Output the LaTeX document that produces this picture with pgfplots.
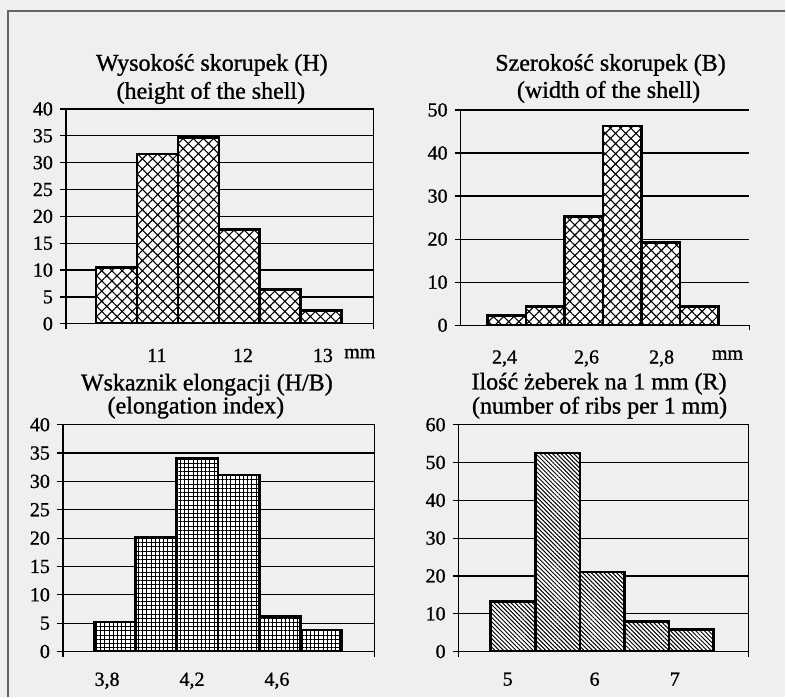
\documentclass[border=0pt]{standalone}
\usepackage{fontspec}
\setmainfont{Liberation Serif}[RawFeature={embolden=1.0}]
\usepackage{pgfplots}
\pgfplotsset{compat=1.18}
\usetikzlibrary{patterns.meta}
\definecolor{bg}{RGB}{239,239,241}
\definecolor{framec}{RGB}{100,100,100}
\pgfplotsset{
  hist/.style={
    scale only axis, anchor=south west, ymin=0, enlargelimits=false,
    ymajorgrids, grid style={black, line width=0.6pt},
    axis line style={-, black, line width=0.6pt},
    ytick pos=left, xtick pos=bottom,
    tick align=outside, major tick length=3pt,
    tick style={black, line width=0.6pt},
    yticklabel style={font=\fontsize{10}{12}\selectfont, /pgf/number format/assume math mode=true},
    xticklabel style={font=\fontsize{10}{12}\selectfont, yshift=-6pt},
    xtick style={draw=none},
    extra x tick labels={},
    extra x tick style={xtick style={draw=black}, major tick length=2.5pt, grid=none},
    ybar, bar width=1,
  },
  bars/.style={fill=white, draw=black, line width=1.3pt},
}
\begin{document}
\begin{tikzpicture}
\fill[bg] (0,0) rectangle (393pt,349pt);
\draw[framec, line width=0.6pt] (4pt,0) -- (4pt,343.5pt) -- (393pt,343.5pt);

% Panel 1: height of the shell
\begin{axis}[hist, at={(33pt,187pt)}, width=154pt, height=107.5pt,
  xmin=-1.23, xmax=6.28, ymax=40, ytick={0,5,...,40},
  xtick={0.99,3.09,5.04,5.94}, xticklabels={11,12,13,mm},
  extra x ticks={-1.23,6.28}]
\addplot[bars, postaction={pattern={Hatch[angle=45,distance=3.6pt,line width=0.55pt]}}]
  coordinates {(0,10.5) (1,31.6) (2,34.7) (3,17.6) (4,6.4) (5,2.5)};
\end{axis}
\node[font=\fontsize{12}{14.4}\selectfont] at (106pt,316.5pt) {Wysokość skorupek (H)};
\node[font=\fontsize{12}{14.4}\selectfont] at (105.5pt,302.5pt) {(height of the shell)};

% Panel 2: width of the shell
\begin{axis}[hist, at={(230.5pt,186.25pt)}, width=144.5pt, height=107.75pt,
  axis x line*=bottom, axis y line*=left,
  xmin=-1.2, xmax=6.3, ymax=50, ytick={0,10,...,50},
  xtick={-0.06,2.07,4.02,5.73}, xticklabels={{2,4},{2,6},{2,8},mm},
  extra x ticks={6.3}]
\addplot[bars, postaction={pattern={Hatch[angle=45,distance=3.6pt,line width=0.55pt]}}]
  coordinates {(0,2.2) (1,4.3) (2,25.2) (3,46.3) (4,19.2) (5,4.3)};
\end{axis}
\node[font=\fontsize{12}{14.4}\selectfont] at (305.5pt,316.5pt) {Szerokość skorupek (B)};
\node[font=\fontsize{12}{14.4}\selectfont] at (304.5pt,303pt) {(width of the shell)};

% Panel 3: elongation index
\begin{axis}[hist, at={(31.5pt,23pt)}, width=156pt, height=113.5pt,
  xmin=-1.26, xmax=6.3, ymax=40, ytick={0,5,...,40},
  xticklabel style={yshift=2pt},
  xtick={-0.19,1.87,3.93}, xticklabels={{3,8},{4,2},{4,6}},
  extra x ticks={-1.26,6.3}]
\addplot[bars, postaction={pattern={Hatch[angle=0,distance=2.1pt,line width=0.5pt]}}]
  coordinates {(0,5.2) (1,20.2) (2,34.0) (3,31.1) (4,6.2) (5,3.8)};
\end{axis}
\node[font=\fontsize{12}{14.4}\selectfont] at (103.5pt,156.5pt) {Wskaznik elongacji (H/B)};
\node[font=\fontsize{12}{14.4}\selectfont] at (98pt,145pt) {(elongation index)};

% Panel 4: number of ribs per 1 mm
\begin{axis}[hist, at={(229.5pt,23pt)}, width=145pt, height=113.5pt,
  xmin=-1.22, xmax=5.28, ymax=60, ytick={0,10,...,60},
  xticklabel style={yshift=2pt},
  xtick={-0.12,1.83,3.63}, xticklabels={5,6,7},
  extra x ticks={-1.22,5.28}]
\addplot[bars, postaction={pattern={Lines[angle=-45,distance=1.5pt,line width=0.5pt]}}]
  coordinates {(0,13.3) (1,52.5) (2,21.0) (3,8.0) (4,5.9)};
\end{axis}
\node[font=\fontsize{12}{14.4}\selectfont] at (299.75pt,157pt) {Ilość żeberek na 1 mm (R)};
\node[font=\fontsize{12}{14.4}\selectfont] at (300pt,145pt) {(number of ribs per 1 mm)};
\end{tikzpicture}
\end{document}
